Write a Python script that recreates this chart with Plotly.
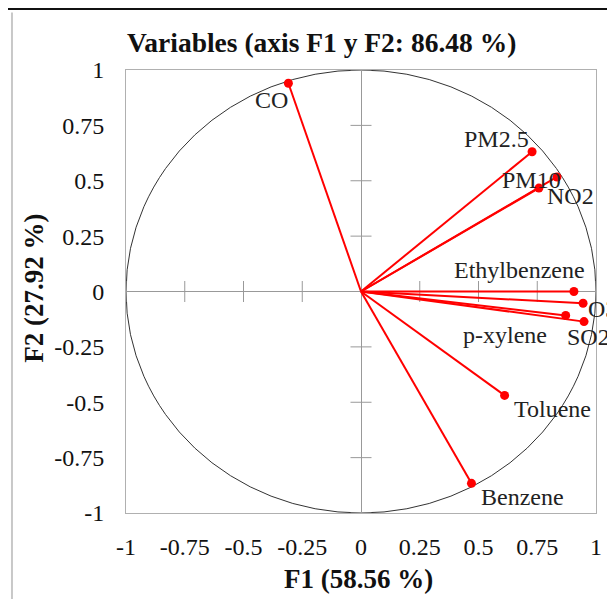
import plotly.graph_objects as go

variables = ["CO", "PM2.5", "PM10", "NO2", "Ethylbenzene", "O3", "p-xylene", "SO2", "Toluene", "Benzene"]
f1 = [-0.309, 0.728, 0.834, 0.757, 0.906, 0.945, 0.871, 0.949, 0.611, 0.470]
f2 = [0.940, 0.631, 0.517, 0.467, 0.000, -0.053, -0.108, -0.136, -0.469, -0.866]
tick_vals = [-1, -0.75, -0.5, -0.25, 0, 0.25, 0.5, 0.75, 1]
tick_text = ["-1", "-0.75", "-0.5", "-0.25", "0", "0.25", "0.5", "0.75", "1"]

# label offsets in pixels (style only)
label_shift = {
    "CO": (-17, -17), "PM2.5": (-36, 13), "PM10": (-25, -3), "NO2": (32, -8),
    "Ethylbenzene": (-54, 22), "O3": (19, -6), "p-xylene": (-61, -20),
    "SO2": (4, -15), "Toluene": (48, -14), "Benzene": (51, -14),
}

FONT = "Liberation Serif, Times New Roman, serif"
RED = "#ff0000"

fig = go.Figure()

# crossing tick marks on the zero axes
inner = [v for v in tick_vals if v != 0]
fig.add_trace(go.Scatter(x=inner, y=[0] * len(inner), mode="markers",
                         marker=dict(symbol="line-ns", size=15, line=dict(color="#999999", width=1)),
                         hoverinfo="skip", showlegend=False, cliponaxis=True))
fig.add_trace(go.Scatter(x=[0] * len(inner), y=inner, mode="markers",
                         marker=dict(symbol="line-ew", size=15, line=dict(color="#999999", width=1)),
                         hoverinfo="skip", showlegend=False, cliponaxis=True))

# vectors
lx, ly = [], []
for a, b in zip(f1, f2):
    lx += [0, a, None]
    ly += [0, b, None]
fig.add_trace(go.Scatter(x=lx, y=ly, mode="lines", line=dict(color=RED, width=2),
                         hoverinfo="skip", showlegend=False))
fig.add_trace(go.Scatter(x=f1, y=f2, mode="markers", marker=dict(color=RED, size=9),
                         text=variables, showlegend=False, cliponaxis=False))

for name, a, b in zip(variables, f1, f2):
    dx, dy = label_shift[name]
    fig.add_annotation(x=a, y=b, xref="x", yref="y", text=name, showarrow=False,
                       xanchor="center", yanchor="middle", xshift=dx, yshift=dy,
                       font=dict(family=FONT, size=24, color="#222222"))

# unit circle
fig.add_shape(type="circle", xref="x", yref="y", x0=-1, y0=-1, x1=1, y1=1,
              line=dict(color="#333333", width=1), layer="below")

# outer frame lines
fig.add_shape(type="line", xref="paper", yref="paper", x0=-0.26, x1=1.06, y0=1.1377, y1=1.1377,
              line=dict(color="#111111", width=2))
fig.add_shape(type="line", xref="paper", yref="paper", x0=-0.2426, x1=-0.2426, y0=1.13, y1=-0.25,
              line=dict(color="#c8c8c8", width=2))

fig.add_annotation(text="<b>Variables (axis F1 y F2: 86.48 %)</b>", xref="paper", yref="paper",
                   x=0.417, y=1.061, xanchor="center", yanchor="middle", showarrow=False,
                   font=dict(family=FONT, size=27.5, color="#111111"))
fig.add_annotation(text="<b>F1 (58.56 %)</b>", xref="paper", yref="paper",
                   x=0.4947, y=-0.148, xanchor="center", yanchor="middle", showarrow=False,
                   font=dict(family=FONT, size=27, color="#111111"))
fig.add_annotation(text="<b>F2 (27.92 %)</b>", xref="paper", yref="paper", textangle=-90,
                   x=-0.195, y=0.507, xanchor="center", yanchor="middle", showarrow=False,
                   font=dict(family=FONT, size=27, color="#111111"))

axis_common = dict(range=[-1, 1], tickvals=tick_vals, ticktext=tick_text, showgrid=False,
                   zeroline=True, zerolinecolor="#999999", zerolinewidth=1,
                   showline=True, linecolor="#b0b0b0", linewidth=1, mirror=True,
                   ticks="", tickfont=dict(family=FONT, size=24, color="#111111"))

# the page body adds an 8px offset; size and margins compensate so the plot box lands at 126..596 x 70..513
fig.update_layout(
    width=607, height=591,
    margin=dict(l=118, r=19, t=62, b=86),
    paper_bgcolor="white", plot_bgcolor="white",
    xaxis=dict(**axis_common, ticklabelstandoff=12),
    yaxis=dict(**axis_common, ticklabelstandoff=16),
    showlegend=False,
)

fig.write_html("out.html")
